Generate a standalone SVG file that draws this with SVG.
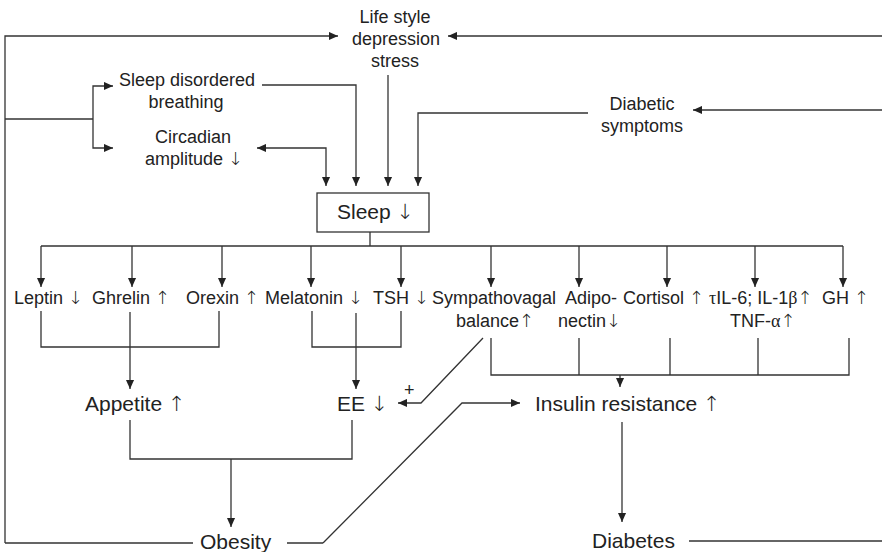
<svg xmlns="http://www.w3.org/2000/svg" width="882" height="552" viewBox="0 0 882 552">
<defs>
<marker id="ah" viewBox="0 0 10 10" refX="10" refY="5" markerUnits="userSpaceOnUse" markerWidth="9" markerHeight="9" orient="auto-start-reverse">
<path d="M0,0.5 L10,5 L0,9.5 z" fill="#222"/>
</marker>
<style>
.c{fill:none;stroke:#333;stroke-width:1.3}
.a{marker-end:url(#ah)}
text{font-family:"Liberation Sans",Arial,sans-serif;fill:#222}
.s{font-size:18px}
.l{font-size:21px}
.ar{font-family:"DejaVu Sans",sans-serif;font-weight:200;fill:#222}
.g{font-family:"Liberation Serif",serif}
</style>
</defs>
<rect width="882" height="552" fill="#fff"/>
<g id="connectors">
<path class="c a" d="M5,543 V36 H338"/>
<path class="c a" d="M882,36 H448"/>
<path class="c" d="M5,119 H93"/>
<path class="c a" d="M93,119 V86 H113"/>
<path class="c a" d="M93,119 V148 H113"/>
<path class="c a" d="M882,110 H693"/>
<path class="c a" d="M262,85 H356 V186"/>
<path class="c a" d="M388,75 V186"/>
<path class="c a" d="M588,113 H418 V186"/>
<path class="c a" d="M257,148 H326 V186" style="marker-start:url(#ah)"/>
<path class="c" d="M370,232 V246 M41,246 H843"/>
<path class="c a" d="M41,246 V287"/>
<path class="c a" d="M132,246 V287"/>
<path class="c a" d="M222,246 V287"/>
<path class="c a" d="M311,246 V287"/>
<path class="c a" d="M401,246 V287"/>
<path class="c a" d="M491,246 V287"/>
<path class="c a" d="M579,246 V287"/>
<path class="c a" d="M667,246 V287"/>
<path class="c a" d="M755,246 V287"/>
<path class="c a" d="M843,246 V287"/>
<path class="c" d="M41,311 V347 H219 V311"/>
<path class="c a" d="M130,312 V389"/>
<path class="c" d="M312,311 V347 H401 V311"/>
<path class="c a" d="M356,313 V389"/>
<path class="c" d="M130,420 V459 H352 V420"/>
<path class="c a" d="M231,459 V527"/>
<path class="c" d="M491,338 V375 H849 V338 M579,338 V375 M670,338 V375 M758,338 V375"/>
<path class="c a" d="M620,375 V387"/>
<path class="c a" d="M483,338 L421,403 H398"/>
<path class="c" d="M5,543 H193 M287,543 H323"/>
<path class="c a" d="M323,543 L462,403 H520"/>
<path class="c a" d="M622,422 V522"/>
<path class="c" d="M689,541 H882"/>
</g>
<g id="lifestyle"><text class="s" text-anchor="middle" x="395" y="23">Life style</text><text class="s" text-anchor="middle" x="396" y="45">depression</text><text class="s" text-anchor="middle" x="395" y="67">stress</text></g>
<g id="sdb"><text class="s" text-anchor="middle" x="187" y="86">Sleep disordered</text><text class="s" text-anchor="middle" x="186" y="108">breathing</text></g>
<g id="circadian"><text class="s" text-anchor="middle" x="193" y="143">Circadian</text><text class="s" x="145" y="165">amplitude <tspan class="ar">↓</tspan></text></g>
<g id="diabetic"><text class="s" text-anchor="middle" x="642" y="110">Diabetic</text><text class="s" text-anchor="middle" x="642" y="132">symptoms</text></g>
<g id="sleep"><rect x="317" y="193" width="112" height="39" fill="none" stroke="#333" stroke-width="1.3"/><text class="l" x="337" y="219">Sleep <tspan class="ar">↓</tspan></text></g>
<g id="leptin"><text class="s" x="14" y="304">Leptin <tspan class="ar">↓</tspan></text></g>
<g id="ghrelin"><text class="s" x="92" y="304">Ghrelin <tspan class="ar">↑</tspan></text></g>
<g id="orexin"><text class="s" x="186" y="304">Orexin <tspan class="ar">↑</tspan></text></g>
<g id="melatonin"><text class="s" x="265" y="304">Melatonin <tspan class="ar">↓</tspan></text></g>
<g id="tsh"><text class="s" x="373" y="304">TSH <tspan class="ar">↓</tspan></text></g>
<g id="sympathovagal"><text class="s" x="432" y="304">Sympathovagal</text><text class="s" x="456" y="327">balance<tspan class="ar">↑</tspan></text></g>
<g id="adiponectin"><text class="s" x="565" y="304">Adipo-</text><text class="s" x="558" y="327">nectin<tspan class="ar">↓</tspan></text></g>
<g id="cortisol"><text class="s" x="623" y="304">Cortisol <tspan class="ar">↑</tspan></text></g>
<g id="il6"><text class="s" x="709" y="304"><tspan class="g">τ</tspan>IL-6; IL-1<tspan class="g">β</tspan><tspan class="ar">↑</tspan></text><text class="s" x="730" y="327">TNF-<tspan class="g">α</tspan><tspan class="ar">↑</tspan></text></g>
<g id="gh"><text class="s" x="822" y="304">GH <tspan class="ar">↑</tspan></text></g>
<g id="appetite"><text class="l" x="85" y="411">Appetite <tspan class="ar">↑</tspan></text></g>
<g id="ee"><text class="l" x="337" y="411">EE <tspan class="ar">↓</tspan></text><text class="s" x="404" y="396">+</text></g>
<g id="insulin"><text class="l" x="535" y="411">Insulin resistance <tspan class="ar">↑</tspan></text></g>
<g id="obesity"><text class="l" x="200" y="549">Obesity</text></g>
<g id="diabetes"><text class="l" x="592" y="548">Diabetes</text></g>
</svg>
